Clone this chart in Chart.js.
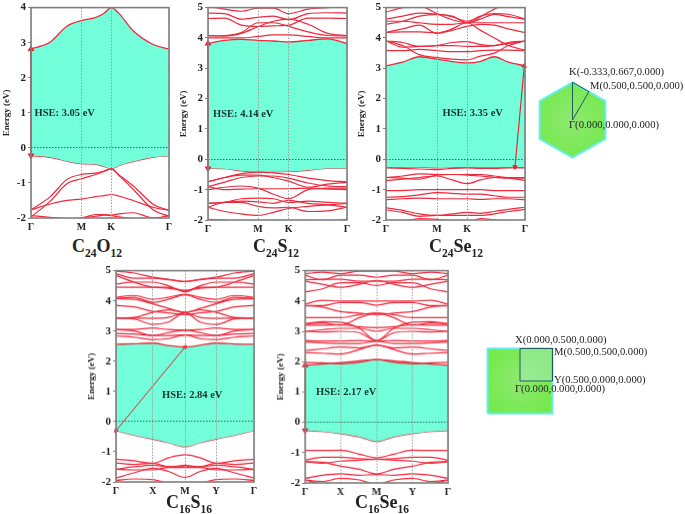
<!DOCTYPE html>
<html>
<head>
<meta charset="utf-8">
<script src="https://cdn.jsdelivr.net/npm/chart.js@4/dist/chart.umd.min.js"></script>
<style>
html,body{margin:0;padding:0;background:#fff;}
body{width:685px;height:514px;position:relative;overflow:hidden;font-family:"Liberation Serif",serif;}
canvas{position:absolute;}
.name{position:absolute;font-weight:bold;font-size:18px;line-height:20px;color:#222;transform:translateX(-50%);white-space:nowrap;}
.name sub{font-size:11.5px;line-height:0;}
.gap{position:absolute;font-weight:bold;font-size:10.5px;line-height:12px;color:#12322e;white-space:nowrap;}
.kp{position:absolute;font-size:10.6px;line-height:12px;color:#222;white-space:nowrap;}
</style>
</head>
<body>
<script>
// ---------------- Data ----------------
const kHex = ['Γ','M','K','Γ'];
const kRect = ['Γ','X','M','Y','Γ'];

// C24O12
const kpos1 = [0,.366,.581,1];
const grid1 = [0,.14,.26,.366,.47,.53,.581,.64,.74,.89,1];
const cb1 = [2.82,3.02,3.47,3.63,3.72,3.84,4.0,3.82,3.34,2.94,2.82];
const vb1 = [-.22,-.27,-.38,-.45,-.47,-.53,-.6,-.5,-.39,-.26,-.23];
const bands1 = [
  [-1.77,-1.39,-.9,-.76,-.72,-.66,-.6,-.78,-1.08,-1.62,-1.78],
  [-1.97,-1.52,-1.02,-.88,-.76,-.67,-.6,-.8,-1.18,-1.78,-1.95],
  [-1.77,-1.6,-1.5,-1.46,-1.39,-1.36,-1.33,-1.38,-1.5,-1.7,-1.78],
  [-1.93,-1.98,-2.02,-2,-1.9,-1.9,-1.92,-1.88,-1.85,-2,-1.93],
  [-2.1,-2.1,-2.1,-2,-1.95,-1.92,-1.93,-1.97,-2.02,-2.1,-2.1]
];
const arrow1 = [[0,2.82],[0,-.22]];

// C24S12
const kpos2 = [0,.36,.58,1];
const grid2 = [0,.12,.24,.36,.47,.58,.72,.86,1];
const cb2 = [3.82,3.92,3.95,3.92,3.9,3.87,3.92,3.97,3.82];
const vb2 = [-.3,-.31,-.38,-.41,-.41,-.4,-.36,-.3,-.3];
const bands2 = [
  [4,4,4,4.05,4.1,4.1,4.05,4,4],
  [4.08,4.06,4.15,4.37,4.55,4.62,4.45,4.15,4.08],
  [4.07,4.08,4.18,4.5,4.5,4.38,4.2,4.08,4.07],
  [4.64,4.65,4.42,4.38,4.4,4.42,4.65,4.65,4.64],
  [4.82,4.8,4.62,4.68,4.72,4.6,4.8,4.83,4.82],
  [5.05,4.95,4.88,4.98,4.98,4.8,4.95,5,5.05],
  [-.74,-.6,-.47,-.42,-.45,-.5,-.62,-.7,-.74],
  [-.74,-.6,-.52,-.52,-.6,-.72,-.92,-.82,-.76],
  [-.9,-.75,-.6,-.55,-.55,-.62,-.78,-.88,-.9],
  [-.9,-1,-.98,-.97,-.97,-.97,-.95,-.98,-1],
  [-1,-.92,-.88,-.95,-1.15,-1.3,-1,-.95,-.95],
  [-1.45,-1.42,-1.3,-1.28,-1.3,-1.42,-1.38,-1.42,-1.45],
  [-1.45,-1.42,-1.38,-1.4,-1.45,-1.35,-1.45,-1.5,-1.58],
  [-1.58,-1.42,-1.42,-1.55,-1.6,-1.58,-1.72,-1.7,-1.58],
  [-1.58,-1.72,-1.8,-1.85,-1.75,-1.62,-1.55,-1.5,-1.45],
  [-1.98,-2,-2.1,-2.1,-2.1,-2.1,-2.1,-2.05,-1.98]
];
const arrow2 = [[0,3.82],[0,-.3]];

// C24Se12
const kpos3 = [0,.367,.583,1];
const grid3 = [0,.12,.24,.367,.475,.583,.68,.78,.88,1];
const cb3 = [3.08,3.2,3.38,3.3,3.22,3.18,3.23,3.38,3.2,3.08];
const vb3 = [-.25,-.26,-.26,-.28,-.27,-.26,-.26,-.26,-.26,-.25];
const bands3 = [
  [3.58,3.58,3.62,3.58,3.55,3.55,3.58,3.6,3.6,3.58],
  [3.9,3.75,3.45,3.35,3.3,3.28,3.4,3.5,3.75,3.9],
  [3.9,3.85,3.72,3.75,3.85,3.88,3.78,3.75,3.85,3.9],
  [3.9,3.7,3.72,3.75,3.75,3.72,3.72,3.75,3.82,3.9],
  [4.18,4.3,4.42,4.15,4.25,4.38,4.45,4.42,4.3,4.18],
  [4.18,4.2,4.2,4.17,4.3,4.5,4.25,4,3.75,3.6],
  [4.45,4.55,4.72,4.78,4.72,4.5,4.62,4.78,4.7,4.62],
  [4.62,4.72,4.82,4.78,4.7,4.55,4.72,4.8,4.78,4.62],
  [4.55,4.55,4.5,4.45,4.45,4.5,4.5,4.5,4.5,4.5],
  [4.85,5,5.05,4.8,4.6,4.5,4.7,4.95,5.1,5.1],
  [-.28,-.3,-.32,-.34,-.3,-.28,-.3,-.3,-.28,-.28],
  [-.6,-.55,-.48,-.5,-.5,-.5,-.5,-.55,-.6,-.6],
  [-.6,-.62,-.65,-.52,-.5,-.52,-.55,-.6,-.62,-.62],
  [-.7,-.65,-.6,-.55,-.68,-.8,-.68,-.6,-.62,-.7],
  [-1.03,-1.03,-1,-1,-1,-1,-1,-1.03,-1.03,-1.03],
  [-1.25,-1.23,-1.17,-1.1,-1.12,-1.15,-1.15,-1.2,-1.25,-1.25],
  [-1.33,-1.3,-1.28,-1.3,-1.3,-1.3,-1.32,-1.3,-1.3,-1.33],
  [-1.6,-1.68,-1.8,-1.85,-1.8,-1.75,-1.78,-1.72,-1.65,-1.58],
  [-1.67,-1.75,-1.88,-1.85,-1.85,-1.85,-1.85,-1.8,-1.72,-1.65],
  [-2.1,-2.05,-1.95,-1.98,-2.05,-2.1,-1.95,-2,-2.05,-2]
];
const arrow3 = [[.995,3.08],[.928,-.25]];

// C16S16
const kpos4 = [0,.2675,.5,.725,1];
const grid4 = [0,.13,.2675,.38,.5,.61,.725,.86,1];
const cb4 = [2.56,2.58,2.6,2.52,2.47,2.53,2.6,2.57,2.56];
const vb4 = [-.3,-.45,-.58,-.7,-.83,-.7,-.58,-.45,-.3];
const bands4 = [
  [2.84,2.8,2.72,2.75,2.87,2.75,2.72,2.8,2.84],
  [2.92,2.9,2.85,2.85,2.87,2.85,2.85,2.9,2.92],
  [3.05,3,2.85,2.95,3.03,2.95,2.85,3,3.05],
  [3.05,3.05,3.1,3.05,3.03,3.05,3.1,3.05,3.05],
  [3.43,3.4,3.22,3.3,3.6,3.3,3.22,3.4,3.43],
  [3.43,3.43,3.42,3.45,3.6,3.45,3.42,3.43,3.43],
  [3.43,3.45,3.62,3.7,3.62,3.7,3.62,3.45,3.43],
  [3.85,3.8,3.65,3.6,3.54,3.6,3.65,3.8,3.85],
  [4.07,4.05,3.9,3.75,3.62,3.75,3.9,4.05,4.07],
  [4.12,4.18,4.05,4.12,4.22,4.12,4.05,4.18,4.12],
  [4.08,4.12,3.95,4.05,4.2,4.05,3.95,4.12,4.08],
  [4.45,4.45,4.45,4.45,4.34,4.45,4.45,4.45,4.45],
  [4.56,4.62,4.62,4.5,4.3,4.5,4.62,4.62,4.56],
  [4.84,4.62,4.45,4.42,4.34,4.42,4.45,4.62,4.84],
  [4.9,4.75,4.75,4.7,4.64,4.7,4.75,4.75,4.9],
  [4.98,4.92,4.78,4.72,4.64,4.72,4.78,4.92,4.98],
  [-1.25,-1.3,-1.38,-1.2,-1.1,-1.2,-1.38,-1.3,-1.25],
  [-1.37,-1.42,-1.38,-1.5,-1.45,-1.5,-1.38,-1.42,-1.37],
  [-1.58,-1.5,-1.45,-1.5,-1.5,-1.5,-1.45,-1.5,-1.58],
  [-1.58,-1.6,-1.6,-1.52,-1.52,-1.52,-1.6,-1.6,-1.58],
  [-1.87,-1.7,-1.55,-1.65,-1.85,-1.65,-1.55,-1.7,-1.87],
  [-1.95,-1.9,-1.92,-2.05,-2.1,-2.05,-1.92,-1.9,-1.95]
];
const arrow4 = [[0,-.3],[.5,2.47]];

// C16Se16
const kpos5 = [0,.248,.5,.75,1];
const grid5 = [0,.12,.248,.38,.5,.62,.75,.88,1];
const cb5 = [1.88,1.92,1.97,2.03,2.07,2.03,1.97,1.92,1.88];
const vb5 = [-.27,-.3,-.37,-.48,-.63,-.48,-.37,-.3,-.27];
const bands5 = [
  [1.97,1.96,1.93,1.98,2.07,1.98,1.93,1.96,1.97],
  [2.3,2.28,2.25,2.4,2.55,2.4,2.25,2.28,2.3],
  [2.37,2.42,2.48,2.45,2.55,2.45,2.48,2.42,2.37],
  [2.65,2.62,2.6,2.6,2.67,2.6,2.6,2.62,2.65],
  [2.7,2.68,2.68,2.7,2.67,2.7,2.68,2.68,2.7],
  [3,2.98,3,2.95,2.7,2.95,3,2.98,3],
  [3,3.05,3.1,3.1,3,3.1,3.1,3.05,3],
  [3.2,3.2,3.22,3.15,3.12,3.15,3.22,3.2,3.2],
  [3.25,3.32,3.3,3.1,2.7,3.1,3.3,3.32,3.25],
  [3.25,3.28,3.2,3.45,3.6,3.45,3.2,3.28,3.25],
  [3.45,3.45,3.45,3.55,3.6,3.55,3.45,3.45,3.45],
  [3.85,3.8,3.65,3.6,3.55,3.6,3.65,3.8,3.85],
  [3.85,3.85,3.95,3.95,3.86,3.95,3.95,3.85,3.85],
  [3.9,4.02,4,4,4,4,4,4.02,3.9],
  [4.3,4.4,4.6,4.6,4.51,4.6,4.6,4.4,4.3],
  [4.65,4.55,4.45,4.55,4.68,4.55,4.45,4.55,4.65],
  [4.7,4.72,4.72,4.65,4.65,4.65,4.72,4.72,4.7],
  [4.85,4.7,4.85,4.85,4.78,4.85,4.85,4.7,4.85],
  [4.9,4.95,4.9,4.98,4.98,4.98,4.9,4.95,4.9],
  [-.93,-.93,-.92,-1.05,-1.17,-1.05,-.92,-.93,-.93],
  [-1.25,-1.15,-1.15,-1.2,-1.22,-1.2,-1.15,-1.15,-1.25],
  [-1.3,-1.35,-1.28,-1.25,-1.22,-1.25,-1.28,-1.35,-1.3],
  [-1.3,-1.32,-1.45,-1.55,-1.7,-1.55,-1.45,-1.32,-1.3],
  [-1.85,-1.75,-1.7,-1.75,-1.72,-1.75,-1.7,-1.75,-1.85],
  [-1.9,-1.95,-1.85,-1.9,-2.05,-1.9,-1.85,-1.95,-1.9],
  [-1.9,-2.05,-2.1,-2.1,-2.1,-2.1,-2.1,-2.05,-1.9]
];
const arrow5 = [[0,1.88],[0,-.27]];

// Brillouin zones: edge x, upper edge, lower edge, closed outline and k-path
const hexX = [-.866,0,.866];
const hexUpper = [.5,1,.5];
const hexLower = [-.5,-1,-.5];
const hexOutline = [[0,1],[.866,.5],[.866,-.5],[0,-1],[-.866,-.5],[-.866,.5],[0,1]];
const hexPath = [[0,0],[0,1],[.433,.75],[0,0]];
const rectX = [-1,1];
const rectUpper = [1,1];
const rectLower = [-1,-1];
const rectOutline = [[-1,-1],[1,-1],[1,1],[-1,1],[-1,-1]];
const rectPath = [[0,0],[0,1],[1,1],[1,0],[0,0]];
const rectInnerX = [0,1];
const rectInnerUpper = [1,1];
const rectInnerLower = [0,0];

// ---------------- Helpers ----------------
const RED = '#f0283c', FILL = '#72ffd9', FRAME = '#808080';
const SERIF = '"Liberation Serif", serif';

const framePlugin = {
  id: 'frame',
  afterDraw(c){
    const a = c.chartArea, g = c.ctx;
    g.save();
    g.strokeStyle = FRAME; g.lineWidth = 1.6;
    g.strokeRect(a.left, a.top, a.right-a.left, a.bottom-a.top);
    g.restore();
  }
};

function pts(xs, ys){ return xs.map((x,i)=>({x, y:ys[i]})); }
function pairs(list){ return list.map(a=>({x:a[0], y:a[1]})); }

function addCanvas(left, top, w, h){
  const cv = document.createElement('canvas');
  cv.width = w; cv.height = h;
  cv.style.left = left+'px'; cv.style.top = top+'px';
  cv.style.width = w+'px'; cv.style.height = h+'px';
  document.body.appendChild(cv);
  return cv;
}

function addText(cls, x, y, html){
  const d = document.createElement('div');
  d.className = cls;
  d.style.left = x+'px'; d.style.top = y+'px';
  d.innerHTML = html;
  document.body.appendChild(d);
}

function bandPanel(p){
  const padL = 30, padT = 6, padR = 10, padB = 15;
  const cv = addCanvas(p.left-padL, p.top-padT, p.width+padL+padR, p.height+padT+padB);
  const line = ys => ({data:pts(p.grid, ys), borderColor:RED, borderWidth:1.2, pointRadius:0,
    cubicInterpolationMode:'monotone', fill:false});
  const a = p.arrow[0], b = p.arrow[1];
  const ang = Math.atan2((a[0]-b[0])*p.width, (a[1]-b[1])*p.height/(p.ymax-p.ymin))*180/Math.PI;
  const datasets = [
    {data:pairs(p.arrow), borderColor:'#e8202c', backgroundColor:'#e8202c', borderWidth:p.arrowWidth,
      pointStyle:'triangle', pointRadius:2.2, pointRotation:[ang,ang+180], fill:false, clip:false},
    ...p.bands.map(line),
    Object.assign(line(p.cb), {borderWidth:1.3, fill:{target:'+1'}, backgroundColor:FILL}),
    Object.assign(line(p.vb), {borderWidth:1.3})
  ];
  new Chart(cv, {
    type:'line',
    data:{datasets},
    plugins:[framePlugin],
    options:{
      responsive:false, animation:false, events:[],
      layout:{padding:{top:padT, right:padR, left:0, bottom:0}},
      plugins:{legend:{display:false}, tooltip:{enabled:false}},
      scales:{
        x:{
          type:'linear', min:0, max:1,
          afterBuildTicks(s){ s.ticks = p.kpos.map(v=>({value:v})); },
          afterFit(s){ s.height = padB; },
          grid:{color:'#9a9a9a', lineWidth:1, z:1, drawTicks:false},
          border:{display:false, dash:[1.5,1.5]},
          ticks:{
            autoSkip:false, maxRotation:0, padding:3,
            color:'#222', font:{family:SERIF, size:10, weight:'bold'},
            callback:(v,i)=>p.labels[i]
          }
        },
        y:{
          min:p.ymin, max:p.ymax,
          afterFit(s){ s.width = padL; },
          grid:{color:c=>c.tick.value===0?'#2f6f60':'transparent', lineWidth:1, z:1, drawTicks:true, tickColor:FRAME, tickLength:3},
          border:{display:false, dash:[1.5,1.5]},
          ticks:{
            stepSize:1, padding:2, autoSkip:false,
            color:'#222', font:{family:SERIF, size:11, weight:'bold'}
          },
          title:{display:true, text:'Energy (eV)', color:'#222', padding:{top:0,bottom:1},
            font:{family:SERIF, size:9, weight:'bold'}}
        }
      }
    }
  });
  addText('name', p.nameX, p.nameY, p.name);
  addText('gap', p.gapX, p.gapY, p.gap);
}

function zonePanel(z){
  const cv = addCanvas(z.left, z.top, z.width, z.height);
  const glow = c => {
    const a = c.chart.chartArea;
    if(!a) return '#7ee860';
    const cx = (a.left+a.right)/2, cy = (a.top+a.bottom)/2;
    const g = c.chart.ctx.createRadialGradient(cx,cy,2,cx,cy,(a.right-a.left)/2);
    g.addColorStop(0,'#8ee870'); g.addColorStop(1,'#74ea4c');
    return g;
  };
  const sets = [
    {data:pairs(z.path), borderColor:'#1f5a5a', borderWidth:1, pointRadius:0, fill:false},
    {data:pairs(z.outline), borderColor:'#66eeee', borderWidth:2, pointRadius:0, fill:false}
  ];
  if(z.innerX){
    sets.push(
      {data:pts(z.innerX, z.innerUpper), borderWidth:0, pointRadius:0, fill:{target:'+1'}, backgroundColor:'rgba(170,235,200,.45)'},
      {data:pts(z.innerX, z.innerLower), borderWidth:0, pointRadius:0, fill:false}
    );
  }
  sets.push(
    {data:pts(z.edgeX, z.upper), borderWidth:0, pointRadius:0, fill:{target:'+1'}, backgroundColor:glow},
    {data:pts(z.edgeX, z.lower), borderWidth:0, pointRadius:0, fill:false}
  );
  new Chart(cv, {
    type:'line',
    data:{datasets:sets},
    options:{
      responsive:false, animation:false, events:[],
      layout:{padding:0},
      plugins:{legend:{display:false}, tooltip:{enabled:false}},
      scales:{
        x:{type:'linear', display:false, min:z.xmin, max:z.xmax},
        y:{type:'linear', display:false, min:z.ymin, max:z.ymax}
      }
    }
  });
}

// ---------------- Panels ----------------
bandPanel({left:30.5, top:5, width:138, height:213, ymin:-2, ymax:4, kpos:kpos1, labels:kHex, grid:grid1,
  bands:bands1, cb:cb1, vb:vb1, arrow:arrow1, arrowWidth:1.8,
  name:'C<sub>24</sub>O<sub>12</sub>', nameX:97, nameY:236, gap:'HSE: 3.05 eV', gapX:34.5, gapY:107});
bandPanel({left:207.7, top:5, width:139, height:215.3, ymin:-2, ymax:5, kpos:kpos2, labels:kHex, grid:grid2,
  bands:bands2, cb:cb2, vb:vb2, arrow:arrow2, arrowWidth:1.8,
  name:'C<sub>24</sub>S<sub>12</sub>', nameX:276, nameY:236, gap:'HSE: 4.14 eV', gapX:213, gapY:108});
bandPanel({left:386, top:5, width:139, height:215, ymin:-2, ymax:5, kpos:kpos3, labels:kHex, grid:grid3,
  bands:bands3, cb:cb3, vb:vb3, arrow:arrow3, arrowWidth:1.1,
  name:'C<sub>24</sub>Se<sub>12</sub>', nameX:456, nameY:236, gap:'HSE: 3.35 eV', gapX:442.5, gapY:107});
bandPanel({left:116, top:268.3, width:138.3, height:213.4, ymin:-2, ymax:5, kpos:kpos4, labels:kRect, grid:grid4,
  bands:bands4, cb:cb4, vb:vb4, arrow:arrow4, arrowWidth:1,
  name:'C<sub>16</sub>S<sub>16</sub>', nameX:189, nameY:492, gap:'HSE: 2.84 eV', gapX:162, gapY:389});
bandPanel({left:305.3, top:268, width:142.4, height:214.7, ymin:-2, ymax:5, kpos:kpos5, labels:kRect, grid:grid5,
  bands:bands5, cb:cb5, vb:vb5, arrow:arrow5, arrowWidth:1.8,
  name:'C<sub>16</sub>Se<sub>16</sub>', nameX:382, nameY:492, gap:'HSE: 2.17 eV', gapX:316, gapY:386});

zonePanel({left:532, top:77, width:81, height:86, edgeX:hexX, upper:hexUpper, lower:hexLower, outline:hexOutline, path:hexPath,
  xmin:-1.068, xmax:1.068, ymin:-1.14, ymax:1.14});
zonePanel({left:482, top:343, width:76, height:76, edgeX:rectX, upper:rectUpper, lower:rectLower, outline:rectOutline, path:rectPath,
  innerX:rectInnerX, innerUpper:rectInnerUpper, innerLower:rectInnerLower,
  xmin:-1.17, xmax:1.17, ymin:-1.17, ymax:1.17});

addText('kp', 569, 66, 'K(-0.333,0.667,0.000)');
addText('kp', 590, 80, 'M(0.500,0.500,0.000)');
addText('kp', 569, 119, 'Γ(0.000,0.000,0.000)');
addText('kp', 515, 334, 'X(0.000,0.500,0.000)');
addText('kp', 554, 346, 'M(0.500,0.500,0.000)');
addText('kp', 554, 374, 'Y(0.500,0.000,0.000)');
addText('kp', 515, 383, 'Γ(0.000,0.000,0.000)');
</script>
</body>
</html>
